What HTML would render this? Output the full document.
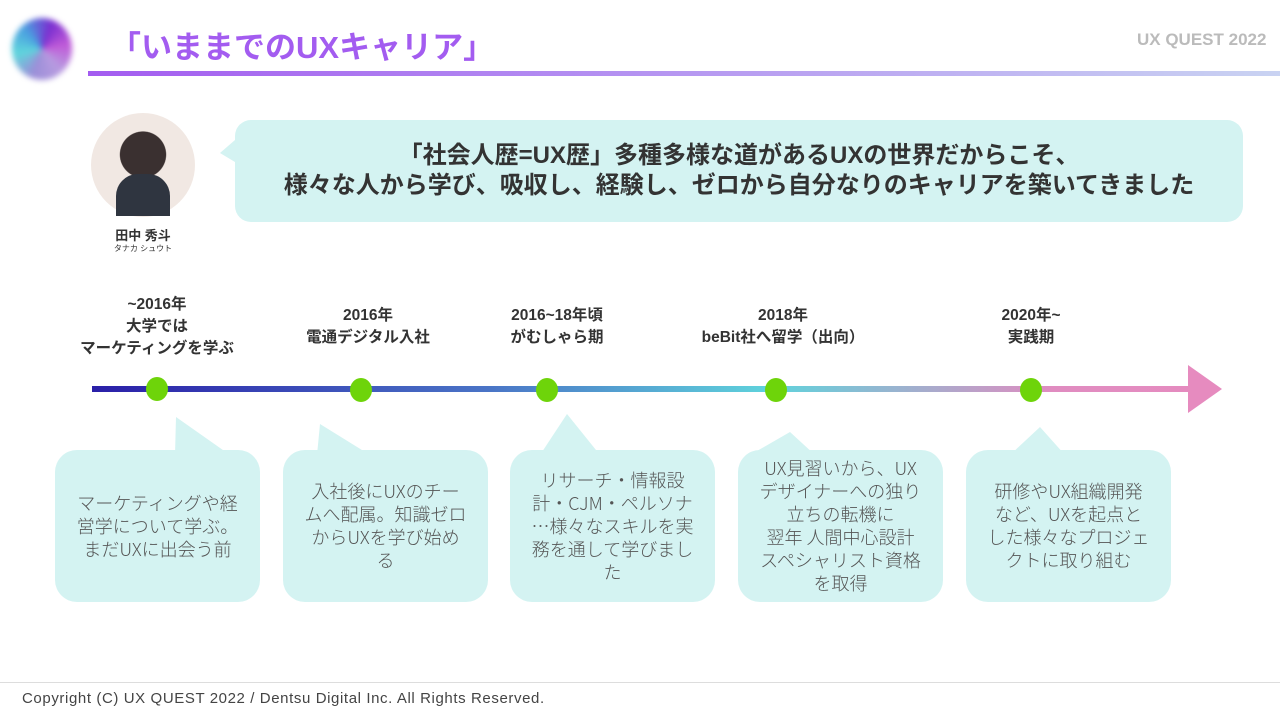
<!DOCTYPE html>
<html><head><meta charset="utf-8"><style>
body{margin:0;width:1280px;height:720px;background:#fff;position:relative;overflow:hidden;font-family:"Liberation Sans","Noto Sans CJK JP",sans-serif;}
.a{position:absolute}
.lbl{position:absolute;text-align:center;font-weight:bold;font-size:15.5px;line-height:22px;color:#333;transform:translateX(-50%);white-space:nowrap}
.box{position:absolute;top:450px;width:205px;height:152px;background:#d4f3f2;border-radius:22px;display:flex;align-items:center;justify-content:center;text-align:center;font-size:18px;line-height:23px;color:#555;white-space:nowrap;font-family:"Noto Sans CJK JP","Liberation Sans",sans-serif;font-weight:300}
</style></head><body>
<div class="a" style="left:12px;top:18px;width:60px;height:62px;border-radius:50%;background:conic-gradient(from 200deg,#9b8fd8,#5fd6dc,#4a9ee0,#7a2fd0,#c05ad8,#b79be0,#9b8fd8);filter:blur(3px)"></div>
<div class="a" style="left:110px;top:22px;font-size:31px;font-weight:bold;color:#a35cf0;letter-spacing:0px">「いままでのUXキャリア」</div>
<div class="a" style="left:1137px;top:30px;font-size:17px;font-weight:bold;color:#bbb">UX QUEST 2022</div>
<div class="a" style="left:88px;top:71px;width:1192px;height:5px;background:linear-gradient(90deg,#a35cf0,#c9d3f2)"></div>

<div class="a" style="left:91px;top:113px;width:104px;height:104px;border-radius:50%;background:radial-gradient(circle at 50% 40%,#3a3030 0 28%,#f1e8e3 29%);"></div>
<div class="a" style="left:116px;top:174px;width:54px;height:42px;background:#2f3540;border-radius:22px 22px 0 0"></div>
<div class="a" style="left:143px;top:225px;transform:translateX(-50%);font-size:13px;font-weight:bold;color:#333;white-space:nowrap">田中 秀斗</div>
<div class="a" style="left:143px;top:243px;transform:translateX(-50%);font-size:8px;color:#333;white-space:nowrap">タナカ シュウト</div>

<svg class="a" style="left:0;top:0" width="1280" height="720">
<defs><linearGradient id="g" x1="92" x2="1222" gradientUnits="userSpaceOnUse">
<stop offset="0" stop-color="#2a1fa8"/><stop offset="0.35" stop-color="#4a74c6"/><stop offset="0.6" stop-color="#5fd3dc"/><stop offset="0.85" stop-color="#e08cc0"/><stop offset="1" stop-color="#e68bbf"/></linearGradient></defs>
<path d="M235,140 L220,153 L235,162 Z" fill="#d4f3f2"/>
<rect x="235" y="120" width="1008" height="102" rx="16" fill="#d4f3f2"/>
<rect x="92" y="386" width="1100" height="6" fill="url(#g)"/>
<path d="M1188,365 L1222,389 L1188,413 Z" fill="#e68bbf"/>
<g fill="#6ed40a"><ellipse cx="157" cy="389" rx="11" ry="12"/><ellipse cx="361" cy="390" rx="11" ry="12"/><ellipse cx="547" cy="390" rx="11" ry="12"/><ellipse cx="776" cy="390" rx="11" ry="12"/><ellipse cx="1031" cy="390" rx="11" ry="12"/></g>
<g fill="#d4f3f2">
<path d="M176,417 L175,455 L230,455 Z"/>
<path d="M320,424 L317,455 L370,455 Z"/>
<path d="M567,414 L540,455 L600,455 Z"/>
<path d="M790,432 L750,455 L815,455 Z"/>
<path d="M1040,427 L1010,455 L1065,455 Z"/>
</g>
</svg>
<div class="a" style="left:235px;top:141px;width:1008px;text-align:center;font-size:24px;font-weight:bold;line-height:30px;color:#333">「社会人歴=UX歴」多種多様な道があるUXの世界だからこそ、<br>様々な人から学び、吸収し、経験し、ゼロから自分なりのキャリアを築いてきました</div>

<div class="lbl" style="left:157px;top:294px">~2016年<br>大学では<br>マーケティングを学ぶ</div>
<div class="lbl" style="left:368px;top:305px">2016年<br>電通デジタル入社</div>
<div class="lbl" style="left:557px;top:305px">2016~18年頃<br>がむしゃら期</div>
<div class="lbl" style="left:783px;top:305px">2018年<br>beBit社へ留学（出向）</div>
<div class="lbl" style="left:1031px;top:305px">2020年~<br>実践期</div>

<div class="box" style="left:55px">マーケティングや経<br>営学について学ぶ。<br>まだUXに出会う前</div>
<div class="box" style="left:283px">入社後にUXのチー<br>ムへ配属。知識ゼロ<br>からUXを学び始め<br>る</div>
<div class="box" style="left:510px">リサーチ・情報設<br>計・CJM・ペルソナ<br>…様々なスキルを実<br>務を通して学びまし<br>た</div>
<div class="box" style="left:738px">UX見習いから、UX<br>デザイナーへの独り<br>立ちの転機に<br>翌年 人間中心設計<br>スペシャリスト資格<br>を取得</div>
<div class="box" style="left:966px">研修やUX組織開発<br>など、UXを起点と<br>した様々なプロジェ<br>クトに取り組む</div>

<div class="a" style="left:0;top:682px;width:1280px;height:1px;background:#ddd"></div>
<div class="a" style="left:22px;top:690px;font-size:15px;letter-spacing:0.6px;color:#444">Copyright (C) UX QUEST 2022 / Dentsu Digital Inc. All Rights Reserved.</div>
</body></html>
